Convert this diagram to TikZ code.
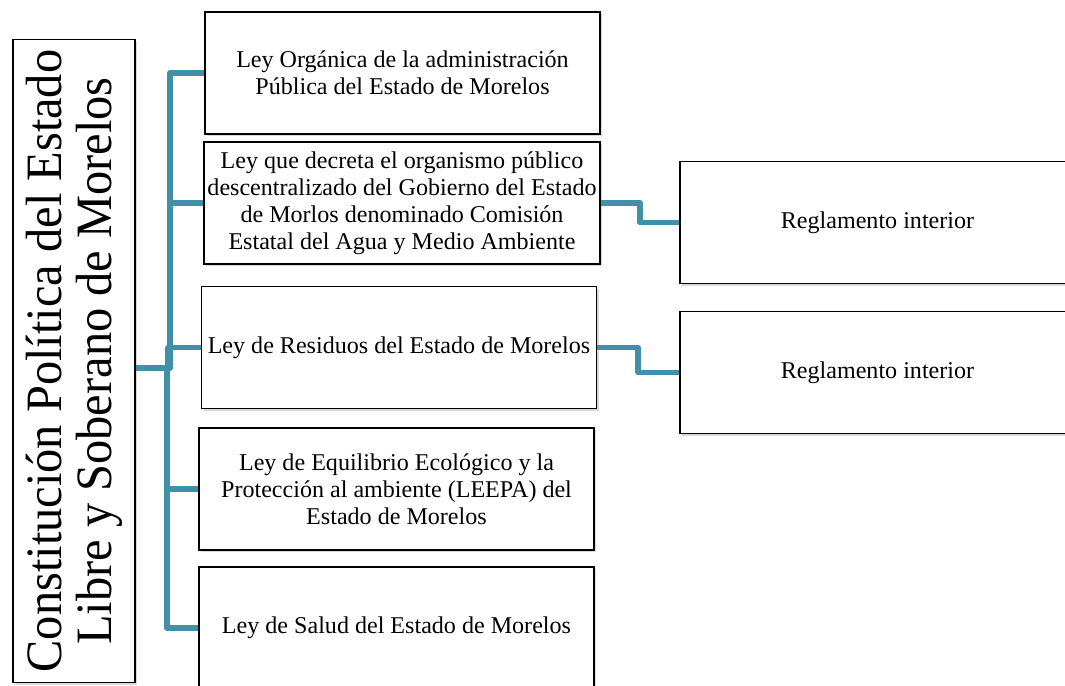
\documentclass[tikz,border=0pt]{standalone}
\usepackage{fontspec}
\setmainfont{Liberation Serif}
\newfontfamily\tallserif[FakeStretch=0.95]{Liberation Serif}
\usetikzlibrary{calc, shadows}
\definecolor{linkteal}{RGB}{64,145,168}

\begin{document}
\begin{tikzpicture}[
        box/.style={rectangle, draw=black, line width=0.8pt, fill=white,
                    drop shadow={shadow xshift=1.2pt, shadow yshift=-1.2pt, opacity=0.3},
                    minimum width=7.9cm, minimum height=2.44cm, inner sep=2pt,
                    align=center, font=\fontsize{13.7}{15.4}\selectfont},
        bigbox/.style={box, minimum width=12.86cm, minimum height=2.44cm,
                    font=\tallserif\fontsize{29}{28.5}\selectfont},
        link/.style={draw=linkteal, line width=3.3pt, line join=round}]
      \useasboundingbox (0,0) rectangle (21.3,-13.72);
      \clip (0,0) rectangle (21.3,-13.72);
      \node[bigbox, rotate=90] (main) at (1.48,-7.22)
            {Constitución Política del Estado\\Libre y Soberano de Morelos};
      \coordinate (hub) at ($(main.south)+(0,-0.14)$);
      \node[box] (b1) at (8.05,-1.46) {Ley Orgánica de la administración\\Pública del Estado de Morelos};
      \node[box] (b2) at (8.04,-4.06) {Ley que decreta el organismo público\\descentralizado del Gobierno del Estado\\de Morlos denominado Comisión\\Estatal del Agua y Medio Ambiente};
      \node[box] (b3) at (7.98,-6.95) {Ley de Residuos del Estado de Morelos};
      \node[box] (b4) at (7.93,-9.78) {Ley de Equilibrio Ecológico y la\\Protección al ambiente (LEEPA) del\\Estado de Morelos};
      \node[box] (b5) at (7.93,-12.56) {Ley de Salud del Estado de Morelos};
      \node[box] (r1) at (17.55,-4.45) {Reglamento interior};
      \node[box] (r2) at (17.55,-7.45) {Reglamento interior};
      \foreach \b in {b1,b2,b3,b4,b5}
        \draw[link] (hub) -| ($(hub)!.5!(\b.west)$) |- (\b.west);
      \draw[link] (b2.east) -| ($(b2.east)!.5!(r1.west)$) |- (r1.west);
      \draw[link] (b3.east) -| ($(b3.east)!.5!(r2.west)$) |- (r2.west);
    \end{tikzpicture}
\end{document}
